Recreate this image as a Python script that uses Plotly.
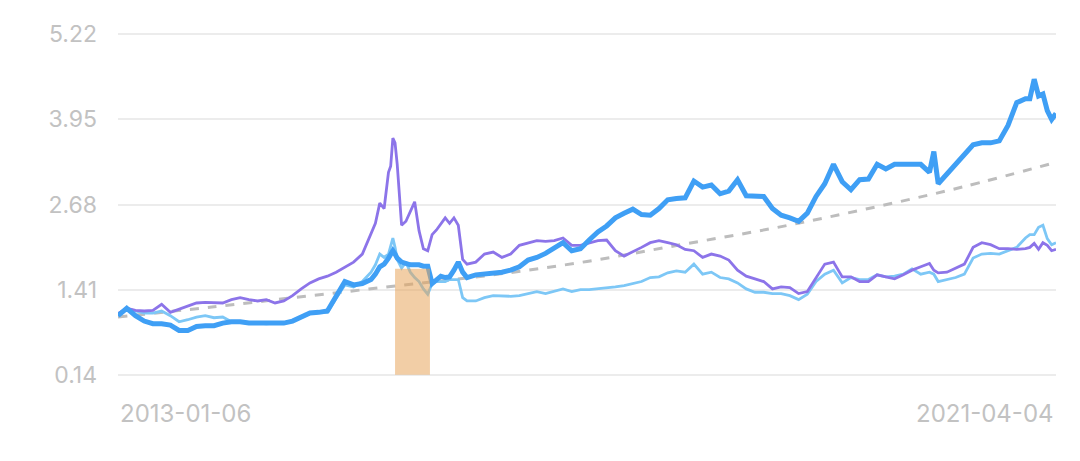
import pandas as pd
import plotly.graph_objects as go

# ---------------- data ----------------
start_date = "2013-01-06"
week_offsets = [0, 4, 8, 12, 16, 20, 24, 28, 32, 36, 40, 44, 48, 52, 56, 60, 64, 68, 72, 76,
                80, 84, 88, 92, 96, 100, 104, 108, 112, 116, 118, 120, 122, 124, 125, 126, 127, 128,
                130, 132, 134, 136, 138, 140, 142, 144, 146, 148, 150, 152, 154, 156, 158, 160,
                164, 168, 172, 176, 180, 184, 188, 192, 196, 200, 204, 208, 212, 216, 220, 224,
                228, 232, 236, 240, 244, 248, 252, 256, 260, 264, 268, 272, 276, 280, 284, 288,
                292, 296, 300, 304, 308, 312, 316, 320, 324, 328, 332, 336, 340, 344, 348, 352,
                356, 360, 364, 368, 372, 374, 376, 380, 384, 388, 392, 396, 400, 404, 408, 412,
                416, 418, 420, 422, 424, 426, 428, 430]

fund_nav = [1.02, 1.13, 1.02, 0.94, 0.90, 0.90, 0.88, 0.80, 0.80, 0.86, 0.87, 0.87, 0.91, 0.93,
            0.93, 0.91, 0.91, 0.91, 0.91, 0.91, 0.94, 1.00, 1.06, 1.07, 1.09, 1.31, 1.53, 1.48,
            1.50, 1.56, 1.64, 1.75, 1.79, 1.88, 1.94, 1.99, 1.94, 1.88, 1.82, 1.79, 1.78, 1.78,
            1.78, 1.76, 1.76, 1.50, 1.56, 1.61, 1.59, 1.60, 1.70, 1.82, 1.67, 1.59, 1.63, 1.64,
            1.66, 1.67, 1.70, 1.75, 1.85, 1.89, 1.95, 2.02, 2.11, 1.99, 2.02, 2.15, 2.27, 2.36,
            2.48, 2.55, 2.61, 2.53, 2.52, 2.62, 2.75, 2.77, 2.78, 3.03, 2.94, 2.97, 2.84, 2.88,
            3.05, 2.81, 2.81, 2.80, 2.62, 2.52, 2.48, 2.43, 2.55, 2.80, 2.99, 3.28, 3.02, 2.90,
            3.05, 3.06, 3.28, 3.21, 3.28, 3.28, 3.29, 3.28, 3.16, 3.47, 2.99, 3.13, 3.28, 3.43,
            3.57, 3.60, 3.60, 3.63, 3.86, 4.20, 4.26, 4.26, 4.55, 4.30, 4.33, 4.08, 3.95, 4.04]

category_avg = [1.05, 1.13, 1.10, 1.09, 1.10, 1.19, 1.07, 1.12, 1.16, 1.21, 1.22, 1.22, 1.21, 1.26,
                1.29, 1.26, 1.24, 1.26, 1.21, 1.24, 1.32, 1.42, 1.51, 1.57, 1.61, 1.67, 1.75, 1.82,
                1.94, 2.26, 2.40, 2.70, 2.62, 3.16, 3.25, 3.67, 3.60, 3.28, 2.37, 2.43, 2.58, 2.72,
                2.29, 2.02, 1.99, 2.23, 2.30, 2.40, 2.48, 2.40, 2.48, 2.37, 1.86, 1.79, 1.82, 1.94,
                1.97, 1.89, 1.94, 2.07, 2.11, 2.14, 2.13, 2.14, 2.18, 2.07, 2.07, 2.11, 2.14, 2.15,
                1.99, 1.91, 1.97, 2.04, 2.11, 2.14, 2.11, 2.08, 2.01, 1.99, 1.89, 1.94, 1.91, 1.85,
                1.70, 1.61, 1.57, 1.53, 1.42, 1.45, 1.44, 1.35, 1.38, 1.59, 1.79, 1.82, 1.60, 1.60,
                1.53, 1.53, 1.63, 1.60, 1.57, 1.63, 1.70, 1.75, 1.80, 1.70, 1.66, 1.67, 1.73, 1.79,
                2.04, 2.11, 2.08, 2.02, 2.02, 2.01, 2.02, 2.04, 2.10, 2.01, 2.11, 2.07, 1.99, 2.01]

benchmark = [1.03, 1.13, 1.09, 1.06, 1.06, 1.09, 1.02, 0.93, 0.96, 1.00, 1.02, 0.99, 1.00, 0.93,
             0.93, 0.91, 0.91, 0.90, 0.91, 0.91, 0.94, 0.99, 1.05, 1.07, 1.07, 1.28, 1.48, 1.45,
             1.53, 1.67, 1.78, 1.94, 1.89, 1.94, 2.08, 2.18, 2.04, 1.86, 1.73, 1.82, 1.67, 1.59,
             1.53, 1.42, 1.34, 1.50, 1.53, 1.53, 1.53, 1.56, 1.56, 1.56, 1.29, 1.24, 1.24, 1.29,
             1.32, 1.31, 1.31, 1.32, 1.35, 1.38, 1.35, 1.38, 1.42, 1.38, 1.41, 1.41, 1.42, 1.44,
             1.45, 1.47, 1.50, 1.53, 1.59, 1.60, 1.66, 1.69, 1.67, 1.79, 1.64, 1.67, 1.59, 1.57,
             1.51, 1.42, 1.37, 1.37, 1.35, 1.35, 1.32, 1.26, 1.34, 1.53, 1.64, 1.70, 1.51, 1.59,
             1.56, 1.56, 1.63, 1.60, 1.61, 1.64, 1.72, 1.64, 1.67, 1.64, 1.53, 1.56, 1.59, 1.64,
             1.88, 1.94, 1.95, 1.94, 1.99, 2.04, 2.18, 2.23, 2.23, 2.34, 2.37, 2.17, 2.08, 2.11]

trend_weeks = [0, 43, 86, 129, 172, 215, 258, 301, 344, 387, 430]
trend_values = [1.00, 1.15, 1.31, 1.47, 1.63, 1.83, 2.08, 2.33, 2.62, 2.94, 3.31]

y_tick_values = [0.14, 1.41, 2.68, 3.95, 5.22]
y_tick_labels = ["0.14", "1.41", "2.68", "3.95", "5.22"]
x_tick_labels = ["2013-01-06", "2021-04-04"]

drawdown_start_week = 127
drawdown_end_week = 143
drawdown_top = 1.72

# ---------------- figure ----------------
t0 = pd.Timestamp(start_date)
dates = [t0 + pd.Timedelta(weeks=w) for w in week_offsets]
trend_dates = [t0 + pd.Timedelta(weeks=w) for w in trend_weeks]

fig = go.Figure()
fig.add_trace(go.Scatter(x=trend_dates, y=trend_values, mode="lines", line_shape="spline",
                         line=dict(color="#bdbdbd", width=3, dash="dash"), hoverinfo="skip"))
fig.add_trace(go.Scatter(x=dates, y=benchmark, mode="lines",
                         line=dict(color="#7dc7f6", width=2.8)))
fig.add_trace(go.Scatter(x=dates, y=category_avg, mode="lines",
                         line=dict(color="#8c74e9", width=2.8)))
fig.add_trace(go.Scatter(x=dates, y=fund_nav, mode="lines",
                         line=dict(color="#3f9ff5", width=5)))

fig.add_shape(type="rect", xref="x", yref="y",
              x0=t0 + pd.Timedelta(weeks=drawdown_start_week),
              x1=t0 + pd.Timedelta(weeks=drawdown_end_week),
              y0=y_tick_values[0], y1=drawdown_top,
              fillcolor="rgba(232,165,92,0.55)", line=dict(width=0), layer="above")

label_font = dict(family="Inter, Roboto, sans-serif", size=23, color="#c2c2c2")
x_label_font = dict(family="Inter, Roboto, sans-serif", size=24, color="#c2c2c2")
fig.add_annotation(x=pd.Timestamp(x_tick_labels[0]), xref="x", xanchor="left",
                   y=0, yref="paper", yanchor="top", yshift=-21,
                   text=x_tick_labels[0], showarrow=False, font=x_label_font)
fig.add_annotation(x=pd.Timestamp(x_tick_labels[1]), xref="x", xanchor="right",
                   y=0, yref="paper", yanchor="top", yshift=-21,
                   text=x_tick_labels[1], showarrow=False, font=x_label_font)

fig.update_layout(
    width=1064, height=445,
    margin=dict(l=110, r=16, t=18, b=77),
    paper_bgcolor="white", plot_bgcolor="white",
    showlegend=False,
    xaxis=dict(range=[dates[0], dates[-1]], showgrid=False, zeroline=False,
               showticklabels=False, showline=False, fixedrange=True),
    yaxis=dict(range=[0.12, 5.24], tickvals=y_tick_values, ticktext=y_tick_labels,
               showgrid=True, gridcolor="#ececec", gridwidth=1.5, zeroline=False,
               showline=False, tickfont=label_font, ticklabelstandoff=20, fixedrange=True),
)

fig.write_html("out.html")
